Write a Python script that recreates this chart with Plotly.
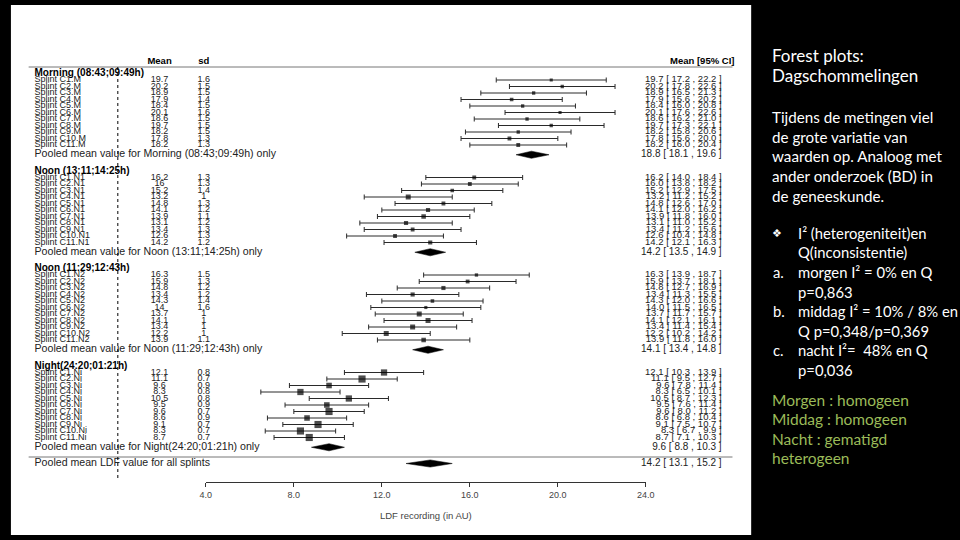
import plotly.graph_objects as go

# ---------------- data ----------------
section_titles = ["Morning (08:43;09:49h)", "Noon (13:11;14:25h)",
                  "Noon (11:29;12:43h)", "Night(24:20;01:21h)"]
pooled_texts = ["Pooled mean value for Morning (08:43;09:49h) only",
                "Pooled mean value for Noon (13:11;14:25h) only",
                "Pooled mean value for Noon (11:29;12:43h) only",
                "Pooled mean value for Night(24:20;01:21h) only"]

morning_labels = ["Splint C1.M", "Splint C2.M", "Splint C3.M", "Splint C4.M", "Splint C5.M", "Splint C6.M",
                  "Splint C7.M", "Splint C8.M", "Splint C9.M", "Splint C10.M", "Splint C11.M"]
morning_mean = [19.7, 20.2, 18.9, 17.9, 18.4, 20.1, 18.6, 19.7, 18.2, 17.8, 18.2]
morning_sd = [1.6, 1.5, 1.5, 1.4, 1.5, 1.6, 1.5, 1.5, 1.5, 1.3, 1.3]
morning_lo = [17.2, 17.8, 16.5, 15.6, 16.0, 17.6, 16.2, 17.3, 15.8, 15.6, 16.0]
morning_hi = [22.2, 22.6, 21.3, 20.2, 20.8, 22.6, 21.0, 22.1, 20.6, 20.0, 20.4]
morning_pooled = [18.8, 18.1, 19.6]

noon1_labels = ["Splint C1.N1", "Splint C2.N1", "Splint C3.N1", "Splint C4.N1", "Splint C5.N1", "Splint C6.N1",
                "Splint C7.N1", "Splint C8.N1", "Splint C9.N1", "Splint C10.N1", "Splint C11.N1"]
noon1_mean = [16.2, 16.0, 15.2, 13.2, 14.8, 14.1, 13.9, 13.1, 13.4, 12.6, 14.2]
noon1_sd = [1.3, 1.3, 1.4, 1.0, 1.3, 1.2, 1.1, 1.2, 1.3, 1.3, 1.2]
noon1_lo = [14.0, 13.8, 12.9, 11.2, 12.6, 12.0, 11.8, 11.0, 11.2, 10.4, 12.1]
noon1_hi = [18.4, 18.2, 17.5, 15.2, 17.0, 16.2, 16.0, 15.2, 15.6, 14.8, 16.3]
noon1_pooled = [14.2, 13.5, 14.9]

noon2_labels = ["Splint C1.N2", "Splint C2.N2", "Splint C3.N2", "Splint C4.N2", "Splint C5.N2", "Splint C6.N2",
                "Splint C7.N2", "Splint C8.N2", "Splint C9.N2", "Splint C10.N2", "Splint C11.N2"]
noon2_mean = [16.3, 15.9, 14.8, 13.4, 14.3, 14.0, 13.7, 14.1, 13.4, 12.2, 13.9]
noon2_sd = [1.5, 1.3, 1.2, 1.2, 1.4, 1.6, 1.0, 1.0, 1.0, 1.0, 1.1]
noon2_lo = [13.9, 13.7, 12.7, 11.3, 12.0, 11.5, 11.7, 12.1, 11.4, 10.2, 11.8]
noon2_hi = [18.7, 18.1, 16.9, 15.5, 16.6, 16.5, 15.7, 16.1, 15.4, 14.2, 16.0]
noon2_pooled = [14.1, 13.4, 14.8]

night_labels = ["Splint C1.Ni", "Splint C2.Ni", "Splint C3.Ni", "Splint C4.Ni", "Splint C5.Ni", "Splint C6.Ni",
                "Splint C7.Ni", "Splint C8.Ni", "Splint C9.Ni", "Splint C10.Ni", "Splint C11.Ni"]
night_mean = [12.1, 11.1, 9.6, 8.3, 10.5, 9.5, 9.6, 8.6, 9.1, 8.3, 8.7]
night_sd = [0.8, 0.7, 0.9, 0.8, 0.8, 0.9, 0.7, 0.9, 0.7, 0.7, 0.7]
night_lo = [10.3, 9.5, 7.8, 6.5, 8.7, 7.6, 8.0, 6.8, 7.5, 6.7, 7.1]
night_hi = [13.9, 12.7, 11.4, 10.1, 12.3, 11.4, 11.2, 10.4, 10.7, 9.9, 10.3]
night_pooled = [9.6, 8.8, 10.3]

overall_label = "Pooled mean LDF value for all splints"
overall_pooled = [14.2, 13.1, 15.2]

tick_vals = [4, 8, 12, 16, 20, 24]
tick_labels = ["4.0", "8.0", "12.0", "16.0", "20.0", "24.0"]
axis_title = "LDF recording (in AU)"

slide_title = ["Forest plots:", "Dagschommelingen"]
slide_body = ["Tijdens de metingen viel", "de grote variatie van", "waarden op. Analoog met",
              "ander onderzoek (BD) in", "de geneeskunde."]
slide_list = [("\u2756", "I\u00b2 (heterogeniteit)en"), ("", "Q(inconsistentie)"),
              ("a.", "morgen I\u00b2 = 0% en Q"), ("", "p=0,863"),
              ("b.", "middag I\u00b2 = 10% / 8% en"), ("", "Q p=0,348/p=0,369"),
              ("c.", "nacht I\u00b2=  48% en Q"), ("", "p=0,036")]
slide_green = ["Morgen : homogeen", "Middag : homogeen", "Nacht : gematigd", "heterogeen"]

sections = [
    (morning_labels, morning_mean, morning_sd, morning_lo, morning_hi, morning_pooled),
    (noon1_labels, noon1_mean, noon1_sd, noon1_lo, noon1_hi, noon1_pooled),
    (noon2_labels, noon2_mean, noon2_sd, noon2_lo, noon2_hi, noon2_pooled),
    (night_labels, night_mean, night_sd, night_lo, night_hi, night_pooled),
]

# ---------------- geometry helpers ----------------
W, H = 960, 540
PANEL = (5, 5, 757, 535)  # left, top, right, bottom (px)


def xd(px):  # pixel -> data x
    return 4 + (px - 203) / 22.35


Y0, DY = 73.5, 6.5


def yd(px):  # pixel -> row units
    return (px - Y0) / DY


FONT = "Liberation Sans, Arial, sans-serif"
TXT = "#222222"
ROW_FS = 9
fig = go.Figure()

X_LABEL = xd(29)
X_MEAN = xd(156)
X_SD = xd(201)
X_CI = xd(727)


def fmt(v):
    return f"{v:g}"


for s, (labels, mean, sd, lo, hi, pooled) in enumerate(sections):
    base = 15 * s
    ys = [base + 1 + i for i in range(len(labels))]
    # CI lines and squares
    fig.add_trace(go.Scatter(
        x=mean, y=ys, mode="markers",
        marker=dict(symbol="square", size=[5.0 / v for v in sd], color="black",
                    line=dict(width=0)),
        error_x=dict(type="data", symmetric=False,
                     array=[h - m for h, m in zip(hi, mean)],
                     arrayminus=[m - l for m, l in zip(mean, lo)],
                     color="#2a2a2a", thickness=1, width=2.5),
        hoverinfo="skip", showlegend=False))
    # pooled diamond
    py = base + 12.5
    est, plo, phi = pooled
    fig.add_trace(go.Scatter(
        x=[plo, est, phi, est, plo], y=[py, py - 0.55, py, py + 0.55, py],
        mode="lines", fill="toself", fillcolor="black",
        line=dict(color="black", width=0.5), hoverinfo="skip", showlegend=False))
    # texts
    fig.add_trace(go.Scatter(
        x=[X_LABEL], y=[base], mode="text", text=[f"<b>{section_titles[s]}</b>"],
        textposition="middle right", textfont=dict(family=FONT, size=10, color="black"),
        hoverinfo="skip", showlegend=False))
    fig.add_trace(go.Scatter(
        x=[X_LABEL] * len(labels) + [X_LABEL], y=ys + [py], mode="text",
        text=labels + [pooled_texts[s]], textposition="middle right",
        textfont=dict(family=FONT, size=[ROW_FS] * len(labels) + [10.6], color=TXT),
        hoverinfo="skip", showlegend=False))
    fig.add_trace(go.Scatter(
        x=[X_MEAN] * len(mean), y=ys, mode="text", text=[fmt(v) for v in mean],
        textposition="middle center", textfont=dict(family=FONT, size=ROW_FS, color=TXT),
        hoverinfo="skip", showlegend=False))
    fig.add_trace(go.Scatter(
        x=[X_SD] * len(sd), y=ys, mode="text", text=[fmt(v) for v in sd],
        textposition="middle center", textfont=dict(family=FONT, size=ROW_FS, color=TXT),
        hoverinfo="skip", showlegend=False))
    ci_text = [f"{m:.1f} [ {l:.1f} , {h:.1f} ]" for m, l, h in zip(mean, lo, hi)]
    ci_text.append(f"{est:.1f} [ {plo:.1f} , {phi:.1f} ]")
    fig.add_trace(go.Scatter(
        x=[X_CI] * len(ci_text), y=ys + [py], mode="text", text=ci_text,
        textposition="middle left",
        textfont=dict(family=FONT, size=[9.5] * len(labels) + [10], color=TXT),
        hoverinfo="skip", showlegend=False))

# overall pooled
oy = 60
est, plo, phi = overall_pooled
fig.add_trace(go.Scatter(
    x=[plo, est, phi, est, plo], y=[oy, oy - 0.55, oy, oy + 0.55, oy],
    mode="lines", fill="toself", fillcolor="black",
    line=dict(color="black", width=0.5), hoverinfo="skip", showlegend=False))
fig.add_trace(go.Scatter(
    x=[X_LABEL, X_CI], y=[oy, oy], mode="text",
    text=[overall_label, f"{est:.1f} [ {plo:.1f} , {phi:.1f} ]"],
    textposition=["middle right", "middle left"],
    textfont=dict(family=FONT, size=[10.6, 10], color=TXT), hoverinfo="skip", showlegend=False))

# column headers
fig.add_trace(go.Scatter(
    x=[X_MEAN, X_SD, xd(740)], y=[-1.8] * 3, mode="text",
    text=["<b>Mean</b>", "<b>sd</b>", "<b>Mean [95% CI]</b>"],
    textposition=["middle center", "middle center", "middle left"],
    textfont=dict(family=FONT, size=9.5, color="black"), hoverinfo="skip", showlegend=False))

# helper trace so the visible x axis gets drawn
fig.add_trace(go.Scatter(x=[4, 24], y=[None, None], xaxis="x2", yaxis="y",
                         mode="markers", hoverinfo="skip", showlegend=False))

shapes = [
    dict(type="rect", xref="paper", yref="paper", layer="below",
         x0=PANEL[0] / W, x1=PANEL[2] / W, y0=1 - PANEL[3] / H, y1=1 - PANEL[1] / H,
         fillcolor="white", line=dict(width=0)),
    dict(type="line", xref="x", yref="y", x0=xd(23), x1=xd(738), y0=-1, y1=-1,
         line=dict(color="#777777", width=1)),
    dict(type="line", xref="x", yref="y", x0=xd(23), x1=xd(738), y0=59, y1=59,
         line=dict(color="#777777", width=1)),
    dict(type="line", xref="x", yref="y", x0=0, x1=0, y0=-1, y1=62.5,
         line=dict(color="black", width=1, dash="dot")),
]

annotations = []


def ann(text, xpx, ypx, size, color="white", family="Lato, Open Sans, sans-serif"):
    annotations.append(dict(text=text, xref="paper", yref="paper", x=xpx / W, y=1 - ypx / H,
                            xanchor="left", yanchor="middle", showarrow=False,
                            font=dict(family=family, size=size, color=color)))


for i, t in enumerate(slide_title):
    ann(t, 776, 55 + 21 * i, 17)
for i, t in enumerate(slide_body):
    ann(t, 776, 117 + 19.7 * i, 15.2)
for i, (b, t) in enumerate(slide_list):
    y = 233 + 19.5 * i
    if b:
        if b == "\u2756":
            ann(b, 776, y, 11, family="DejaVu Sans")
        else:
            ann(b, 777, y, 14.8)
    ann(t, 803, y, 14.8)
for i, t in enumerate(slide_green):
    ann(t, 776, 400 + 19.3 * i, 15.5, color="#9BBB59")

fig.update_layout(
    width=W, height=H, margin=dict(l=0, r=0, t=0, b=0),
    paper_bgcolor="black", plot_bgcolor="rgba(0,0,0,0)",
    xaxis=dict(domain=[PANEL[0] / W, PANEL[2] / W], range=[xd(PANEL[0]), xd(PANEL[2])],
               visible=False, fixedrange=True),
    yaxis=dict(domain=[1 - PANEL[3] / H, 1 - PANEL[1] / H], range=[yd(PANEL[3]), yd(PANEL[1])],
               visible=False, fixedrange=True),
    xaxis2=dict(domain=[203 / W, 650 / W], range=[4, 24], anchor="free", position=1 - 482 / H,
                showline=True, linecolor="#333333", linewidth=1, ticks="outside", ticklen=4,
                tickcolor="#333333", tickvals=tick_vals, ticktext=tick_labels,
                tickfont=dict(family=FONT, size=9, color="#444444"),
                showgrid=False, zeroline=False, fixedrange=True,
                title=dict(text=axis_title, font=dict(family=FONT, size=9.5, color="#444444"),
                           standoff=13)),
    shapes=shapes, annotations=annotations,
)

fig.write_html("out.html", config={"displayModeBar": False},
               post_script="document.body.style.margin='0';")
